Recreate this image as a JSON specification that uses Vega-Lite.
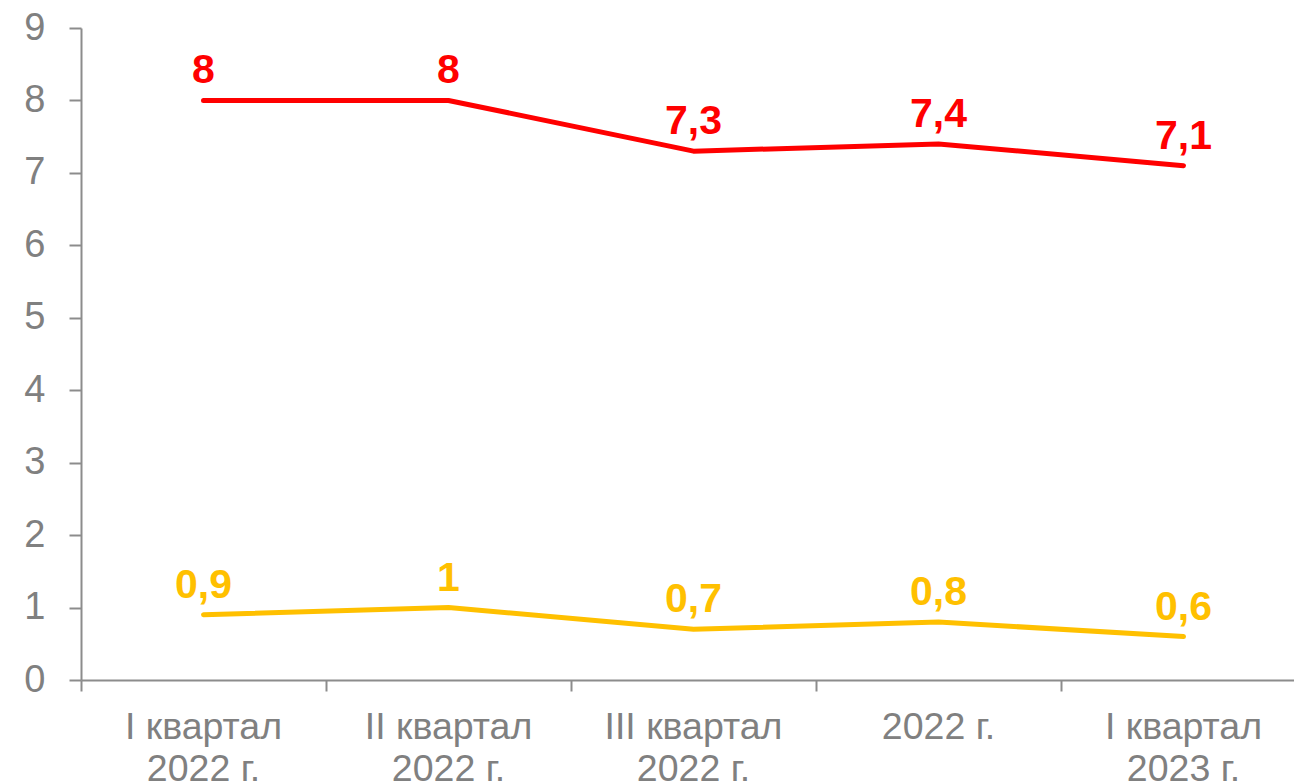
{
  "$schema": "https://vega.github.io/schema/vega-lite/v6.json",
  "autosize": {"type": "none"},
  "width": 1213,
  "height": 652,
  "padding": {"left": 81, "top": 28, "right": 0, "bottom": 103},
  "config": {
    "view": {"stroke": null},
    "font": "Liberation Sans",
    "locale": {"number": {"decimal": ",", "thousands": " ", "grouping": [3], "currency": ["", ""]}}
  },
  "data": {
    "values": [
      {"period": "I квартал|2022 г.", "series": "A", "value": 8},
      {"period": "II квартал|2022 г.", "series": "A", "value": 8},
      {"period": "III квартал|2022 г.", "series": "A", "value": 7.3},
      {"period": "2022 г.", "series": "A", "value": 7.4},
      {"period": "I квартал|2023 г.", "series": "A", "value": 7.1},
      {"period": "I квартал|2022 г.", "series": "B", "value": 0.9},
      {"period": "II квартал|2022 г.", "series": "B", "value": 1},
      {"period": "III квартал|2022 г.", "series": "B", "value": 0.7},
      {"period": "2022 г.", "series": "B", "value": 0.8},
      {"period": "I квартал|2023 г.", "series": "B", "value": 0.6}
    ]
  },
  "encoding": {
    "x": {
      "field": "period", "type": "nominal", "sort": null,
      "scale": {"type": "band", "range": [0, 1225], "paddingInner": 0, "paddingOuter": 0},
      "axis": {
        "title": null, "labelAngle": 0, "bandPosition": 0, "labelDx": 122.5,
        "labelExpr": "split(datum.label, '|')",
        "labelFontSize": 37.5, "labelColor": "#808080", "labelLineHeight": 42,
        "labelPadding": 17, "labelBaseline": "top",
        "domainColor": "#8c8c8c", "domainWidth": 2, "tickColor": "#8c8c8c", "tickWidth": 2, "tickSize": 11,
        "labelOverlap": false, "labelBound": false, "labelFlush": false
      }
    },
    "y": {
      "field": "value", "type": "quantitative",
      "scale": {"domain": [0, 9], "nice": false, "zero": true},
      "axis": {
        "title": null, "values": [0,1,2,3,4,5,6,7,8,9], "grid": false,
        "labelFontSize": 38, "labelColor": "#808080", "labelPadding": 24,
        "domainColor": "#8c8c8c", "domainWidth": 2, "tickColor": "#8c8c8c", "tickWidth": 2, "tickSize": 12,
        "format": "d"
      }
    },
    "color": {
      "field": "series", "type": "nominal",
      "scale": {"domain": ["A", "B"], "range": ["#ff0000", "#ffc000"]},
      "legend": null
    }
  },
  "layer": [
    {"mark": {"type": "line", "strokeWidth": 5, "strokeCap": "round", "strokeJoin": "round"}},
    {
      "mark": {"type": "text", "fontSize": 41, "fontWeight": "bold", "dy": -17, "baseline": "alphabetic", "align": "center"},
      "encoding": {"text": {"field": "value", "type": "quantitative", "format": "~r"}}
    }
  ]
}
